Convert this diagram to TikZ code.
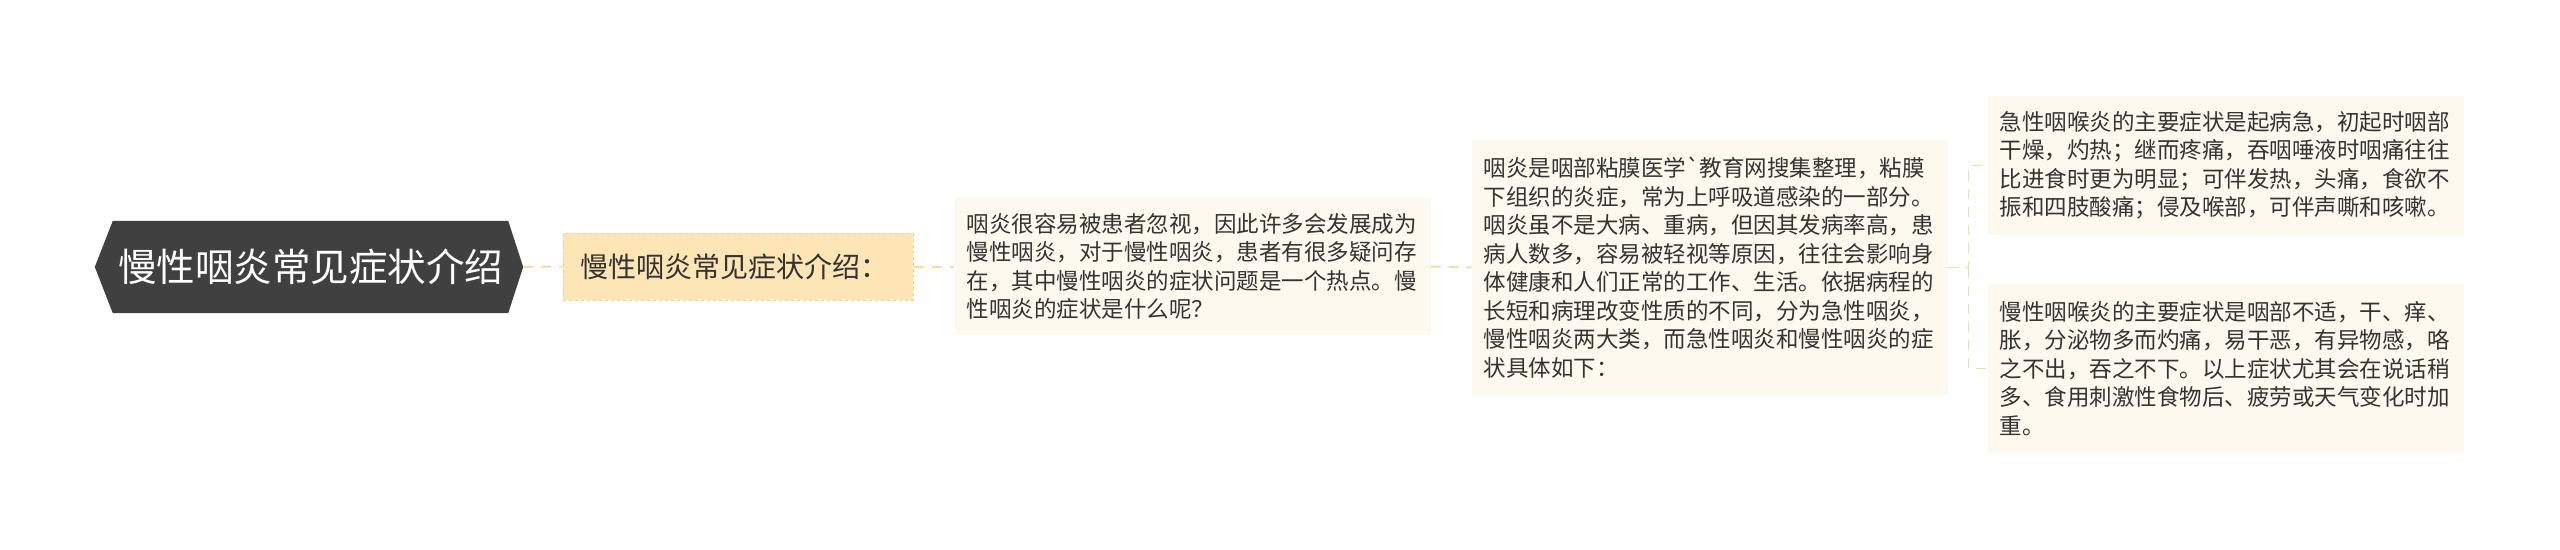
\documentclass[tikz,border=0pt]{standalone}
\usepackage{fontspec}
\newfontfamily\cjk{Noto Sans CJK SC}
\usetikzlibrary{backgrounds}
\definecolor{rootfill}{HTML}{404040}
\definecolor{subfill}{HTML}{FDE5B5}
\definecolor{subline}{HTML}{F3D08E}
\definecolor{cream}{HTML}{FDF9EE}
\definecolor{linkc}{HTML}{F6DBA6}
\definecolor{txt}{HTML}{333333}
\begin{document}
\begin{tikzpicture}[x=1pt,y=-1pt,
  rootnode/.style={minimum width=395pt,minimum height=92pt,inner sep=0pt,text=white,
    font=\cjk\fontsize{38.5}{46}\selectfont},
  subnode/.style={fill=subfill,draw=subline,dashed,line width=1pt,text=txt,align=left,
    text width=316pt,inner xsep=17pt,inner ysep=0pt,minimum height=67pt,
    font=\cjk\fontsize{28}{34}\selectfont},
  leafnode/.style={fill=cream,text=txt,align=left,text width=452pt,inner xsep=12pt,
    inner ysep=0pt,font=\cjk\fontsize{22.5}{28.5}\selectfont},
  link/.style={draw=linkc,line width=2pt,dash pattern=on 10pt off 8pt}]
\useasboundingbox (0,0) rectangle (2560,549);

\node[rootnode] (root) at (310.5,267) {慢性咽炎常见症状介绍};
\node[subnode] (sub) at (738,266.5) {慢性咽炎常见症状介绍：};
\node[leafnode,minimum height=137pt] (intro) at (1192.5,266.5) {咽炎很容易被患者忽视，因此许多会发展成为\\慢性咽炎，对于慢性咽炎，患者有很多疑问存\\在，其中慢性咽炎的症状问题是一个热点。慢\\性咽炎的症状是什么呢？};
\node[leafnode,minimum height=255pt] (def) at (1709.5,267.5) {咽炎是咽部粘膜医学{\char"0060}教育网搜集整理，粘膜\\下组织的炎症，常为上呼吸道感染的一部分。\\咽炎虽不是大病、重病，但因其发病率高，患\\病人数多，容易被轻视等原因，往往会影响身\\体健康和人们正常的工作、生活。依据病程的\\长短和病理改变性质的不同，分为急性咽炎，\\慢性咽炎两大类，而急性咽炎和慢性咽炎的症\\状具体如下：};
\node[leafnode,minimum height=139pt] (acute) at (2225.5,165.5) {急性咽喉炎的主要症状是起病急，初起时咽部\\干燥，灼热；继而疼痛，吞咽唾液时咽痛往往\\比进食时更为明显；可伴发热，头痛，食欲不\\振和四肢酸痛；侵及喉部，可伴声嘶和咳嗽。};
\node[leafnode,minimum height=169pt] (chronic) at (2225.5,368.5) {慢性咽喉炎的主要症状是咽部不适，干、痒、\\胀，分泌物多而灼痛，易干恶，有异物感，咯\\之不出，吞之不下。以上症状尤其会在说话稍\\多、食用刺激性食物后、疲劳或天气变化时加\\重。};

\coordinate (fork) at ([xshift=21pt]def.east);
\draw[link] ([xshift=15pt]root.east) -- (sub.west);
\draw[link] (sub.east) -- (intro.west);
\draw[link] (intro.east) -- (def.west);
\draw[link,line width=1.5pt] (def.east) -- (fork) |- (acute.west);
\draw[link,line width=1.5pt] (fork) |- (chronic.west);

\begin{scope}[on background layer]
\fill[white] (0,0) rectangle (2560,549);
\fill[rootfill] (root.north west) -- (root.north east) -- ([xshift=15pt]root.east)
  -- (root.south east) -- (root.south west) -- ([xshift=-18pt]root.west) -- cycle;
\end{scope}
\end{tikzpicture}
\end{document}
